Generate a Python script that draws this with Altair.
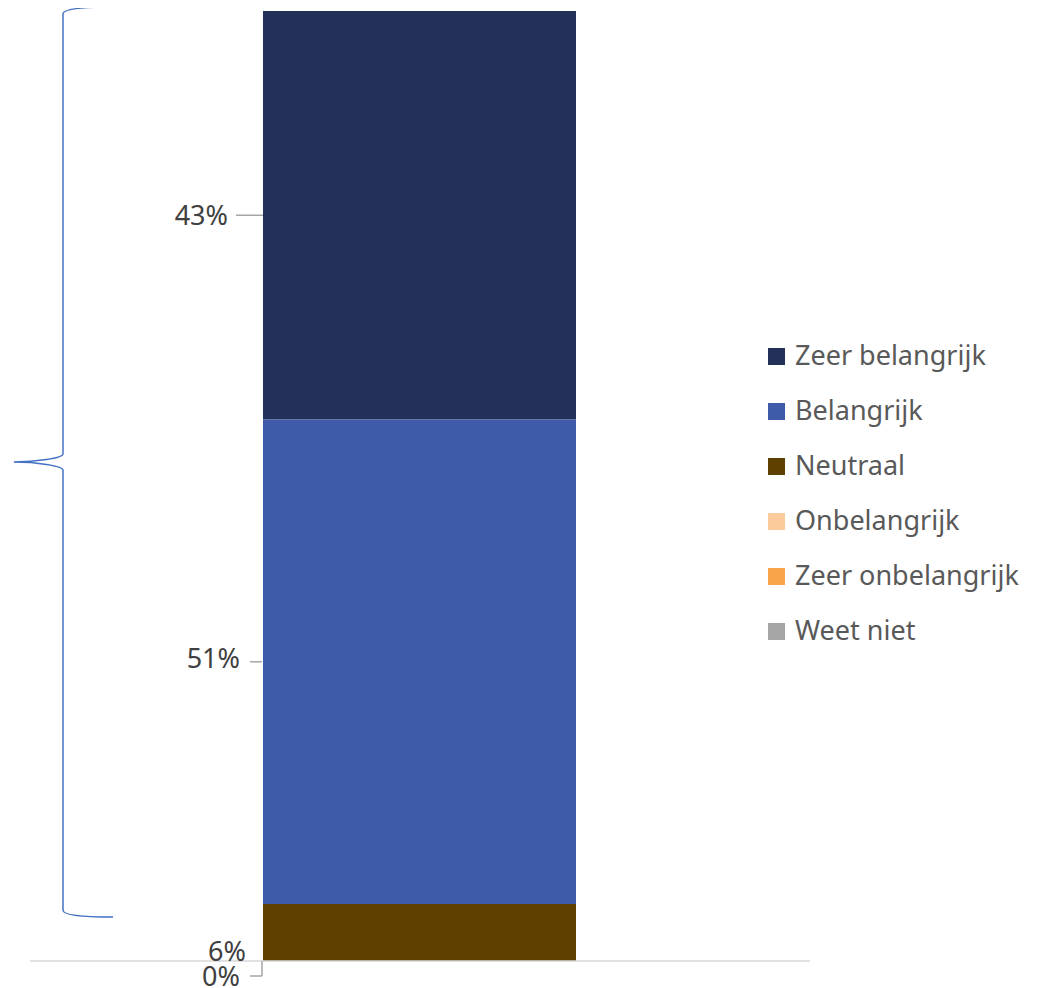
import altair as alt
import pandas as pd

# ---- data ----
categories = ["Zeer belangrijk", "Belangrijk", "Neutraal", "Onbelangrijk", "Zeer onbelangrijk", "Weet niet"]
values = [43, 51, 6, 0, 0, 0]
stack_rank = [6, 5, 4, 3, 2, 1]  # 1 = bottom of stack
colors = ["#22305a", "#3e5aa9", "#5e4000", "#fbcb9b", "#f9a44b", "#a5a5a5"]

df = pd.DataFrame({"cat": categories, "value": values, "rank": stack_rank, "grp": "Q"})

FONT = "Noto Sans"
TEXT = "#404040"
LEADER = "#a6a6a6"
yscale = alt.Scale(domain=[0, 100], range=[953, 3])

base = alt.Chart(df).transform_stack(
    stack="value",
    groupby=["grp"],
    sort=[alt.SortField("rank", order="ascending")],
    as_=["v0", "v1"],
).transform_calculate(mid="(datum.v0 + datum.v1) / 2", label="datum.value + '%'")

bars = base.mark_bar().encode(
    x=alt.X("grp:N", scale=alt.Scale(range=[255, 568], paddingInner=0, paddingOuter=0), axis=None),
    y=alt.Y("v0:Q", scale=yscale, axis=None),
    y2="v1:Q",
    color=alt.Color(
        "cat:N",
        scale=alt.Scale(domain=categories, range=colors),
        legend=alt.Legend(
            title=None, orient="none", legendX=755, legendY=335,
            symbolType="square", symbolSize=289, symbolStrokeWidth=0,
            labelFont=FONT, labelFontSize=27, labelColor="#595959",
            labelOffset=5, rowPadding=27, padding=0, labelLimit=400,
        ),
    ),
)

zero = base.transform_filter("datum.cat == 'Onbelangrijk'")

baseline = zero.mark_rule(color="#d9d9d9", strokeWidth=1.5).encode(
    y=alt.Y("v0:Q", scale=yscale, axis=None), x=alt.value(22), x2=alt.value(802)
)

# leader lines
lead43 = base.transform_filter("datum.cat == 'Zeer belangrijk'").mark_rule(color=LEADER, strokeWidth=1.5).encode(
    y=alt.Y("mid:Q", scale=yscale, axis=None), x=alt.value(228), x2=alt.value(255)
)
lead51 = base.transform_filter("datum.cat == 'Belangrijk'").mark_rule(color=LEADER, strokeWidth=1.5).encode(
    y=alt.Y("mid:Q", scale=yscale, axis=None), x=alt.value(242), x2=alt.value(254)
)
lead0h = zero.mark_rule(color=LEADER, strokeWidth=1.5).encode(
    y=alt.value(968), x=alt.value(242), x2=alt.value(254)
)
lead0v = zero.mark_rule(color=LEADER, strokeWidth=1.5).encode(
    y=alt.Y("v0:Q", scale=yscale, axis=None), y2=alt.value(968), x=alt.value(254)
)

def label_layer(cat, xright, dy):
    return base.transform_filter(f"datum.cat == '{cat}'").mark_text(
        align="right", baseline="middle", font=FONT, fontSize=27, color=TEXT, dy=dy
    ).encode(y=alt.Y("mid:Q", scale=yscale, axis=None), x=alt.value(xright), text="label:N")

t43 = label_layer("Zeer belangrijk", 220, 2)
t51 = label_layer("Belangrijk", 232, -2)
t6 = label_layer("Neutraal", 238, 20)
t0 = label_layer("Onbelangrijk", 232, 17)

# curly brace (decoration) as a custom symbol path
BRACE = ("M 0.110 -1 C 0.04 -1 0 -0.995 0 -0.985 L 0 -0.018 "
         "C 0 -0.008 -0.06 0 -0.108 0 C -0.06 0 0 0.008 0 0.018 "
         "L 0 0.985 C 0 0.995 0.04 1 0.110 1")
brace = base.transform_filter("datum.cat == 'Belangrijk'").mark_point(
    shape=BRACE, size=910 * 910, filled=False, stroke="#4472c4", strokeWidth=1.5, opacity=1
).encode(x=alt.value(55), y=alt.value(454))

chart = alt.layer(
    bars, baseline, lead43, lead51, lead0h, lead0v, t43, t51, t6, t0, brace
).properties(
    width=1030, height=978, autosize=alt.AutoSizeParams(type="none"), padding=0
).configure_view(stroke=None)

chart.save("out.html", embed_options={"renderer": "svg", "actions": False})
